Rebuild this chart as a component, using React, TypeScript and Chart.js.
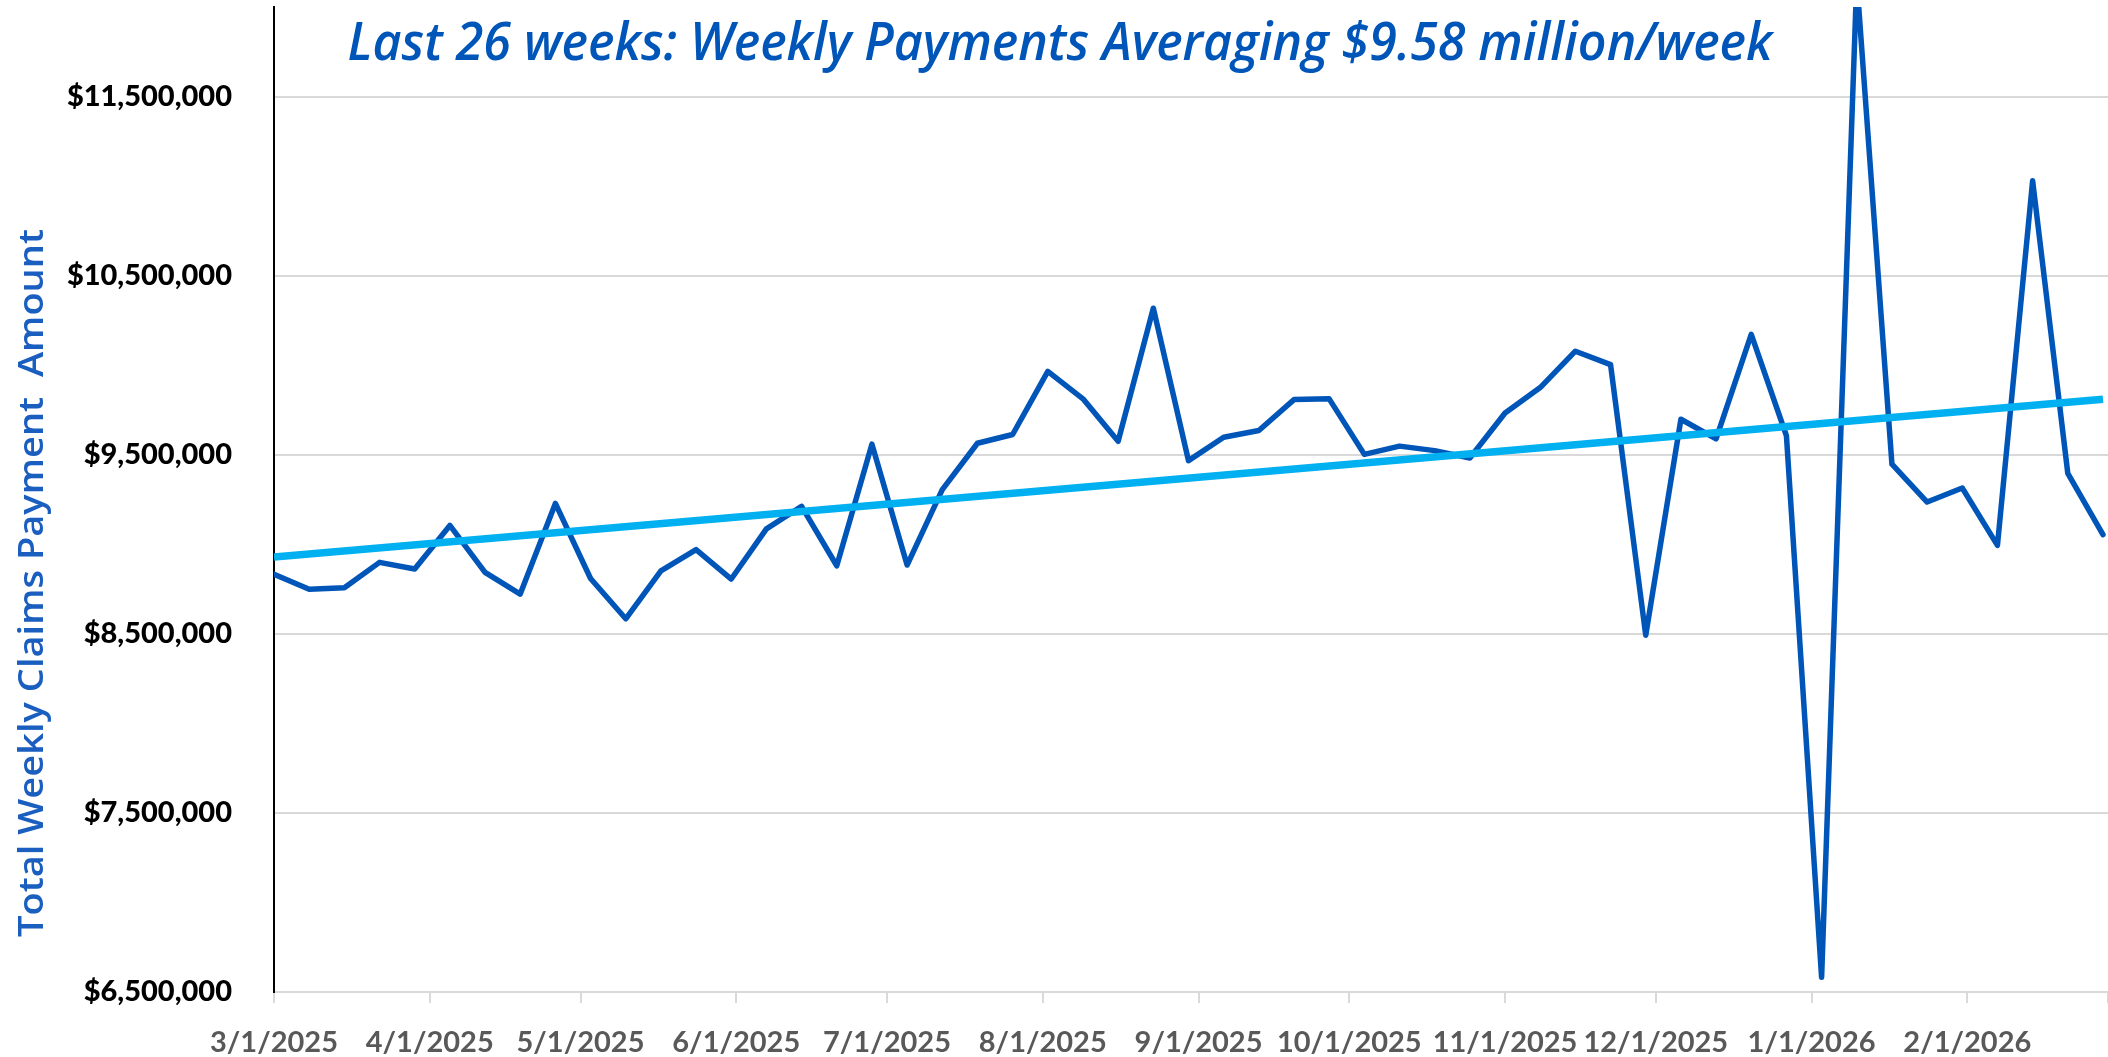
import React, { useEffect, useRef } from 'react';
import { Chart, registerables } from 'chart.js';

Chart.register(...registerables);

// ---- data ----
const firstWeek = '2025-03-01';
const weeklyPayments = [
  8832000, 8749000, 8757000, 8899000, 8862000, 9105000, 8843000, 8722000, 9228000, 8809000,
  8584000, 8851000, 8970000, 8806000, 9086000, 9212000, 8880000, 9559000, 8884000, 9305000,
  9564000, 9613000, 9965000, 9812000, 9575000, 10318000, 9467000, 9598000, 9635000, 9808000,
  9812000, 9502000, 9548000, 9523000, 9482000, 9733000, 9875000, 10078000, 10003000, 8492000,
  9698000, 9589000, 10172000, 9606000, 6582000, 12150000, 9447000, 9236000, 9314000, 8994000,
  11030000, 9396000, 9054000,
];
const trendEnds = [8929000, 9810000];
const monthTickLabels = [
  '3/1/2025', '4/1/2025', '5/1/2025', '6/1/2025', '7/1/2025', '8/1/2025', '9/1/2025',
  '10/1/2025', '11/1/2025', '12/1/2025', '1/1/2026', '2/1/2026', '3/1/2026',
];
const yTickValues = [6500000, 7500000, 8500000, 9500000, 10500000, 11500000];
const yMin = 6500000;
const yMax = 12000000;
const titleText = 'Last 26 weeks: Weekly Payments Averaging $9.58 million/week';
const yAxisTitle = 'Total Weekly Claims Payment  Amount';

const DAY = 86400000;
const parseLabel = (s: string) => {
  const [m, d, y] = s.split('/').map(Number);
  return Date.UTC(y, m - 1, d);
};
const monthTickValues = monthTickLabels.map(parseLabel);
const startMs = Date.parse(firstWeek + 'T00:00:00Z');
const weekDates = weeklyPayments.map((_, i) => startMs + i * 7 * DAY);

// draws text with a given font, horizontally scaled to a target length
function drawFitted(
  ctx: CanvasRenderingContext2D,
  text: string,
  font: string,
  targetWidth: number,
) {
  ctx.font = font;
  const w = ctx.measureText(text).width;
  const sx = targetWidth / w;
  ctx.save();
  ctx.scale(sx, 1);
  ctx.textAlign = 'center';
  ctx.textBaseline = 'alphabetic';
  ctx.fillText(text, 0, 0);
  ctx.restore();
}

const textPlugin = {
  id: 'extraTexts',
  afterDraw(chart: any) {
    const ctx = chart.ctx as CanvasRenderingContext2D;
    // chart title
    ctx.save();
    ctx.fillStyle = '#0055B8';
    ctx.translate(1060, 60);
    drawFitted(ctx, titleText, 'italic 600 52px "Open Sans"', 1425);
    ctx.restore();
    // y axis title
    ctx.save();
    ctx.fillStyle = '#1A5EC0';
    ctx.translate(43, 583);
    ctx.rotate(-Math.PI / 2);
    drawFitted(ctx, yAxisTitle, '600 35px "Open Sans"', 708);
    ctx.restore();
  },
};

export default function App() {
  const ref = useRef<HTMLCanvasElement>(null);
  useEffect(() => {
    if (!ref.current) return;
    const chart = new Chart(ref.current, {
      type: 'line',
      data: {
        datasets: [
          {
            label: 'Trend',
            data: [
              { x: weekDates[0], y: trendEnds[0] },
              { x: weekDates[weekDates.length - 1], y: trendEnds[1] },
            ],
            borderColor: '#00B0F0',
            borderWidth: 7.5,
            pointRadius: 0,
            order: 0,
          },
          {
            label: 'Weekly payments',
            data: weeklyPayments.map((v, i) => ({ x: weekDates[i], y: v })),
            borderColor: '#0055B8',
            borderWidth: 5.5,
            borderJoinStyle: 'round',
            borderCapStyle: 'round',
            pointRadius: 0,
            tension: 0,
            order: 1,
          },
        ],
      },
      options: {
        responsive: false,
        animation: false,
        layout: { padding: { top: 7, left: 0, right: 0, bottom: 0 } },
        plugins: {
          legend: { display: false },
          tooltip: { enabled: false },
          title: { display: false },
        },
        scales: {
          x: {
            type: 'linear',
            min: monthTickValues[0],
            max: monthTickValues[monthTickValues.length - 1],
            afterBuildTicks: (s: any) => {
              s.ticks = monthTickValues.map((v) => ({ value: v }));
            },
            afterFit: (s: any) => {
              s.height = 65;
              s.paddingLeft = 0;
              s.paddingRight = 0;
            },
            grid: {
              drawOnChartArea: false,
              drawTicks: true,
              tickLength: 11,
              color: '#D9D9D9',
              lineWidth: 2,
            },
            border: { color: '#D9D9D9', width: 2 },
            ticks: {
              autoSkip: false,
              maxRotation: 0,
              minRotation: 0,
              padding: 22,
              color: '#595959',
              font: { family: 'Lato', weight: 'bold', size: 29 },
              callback: (_v: any, i: number) =>
                i === monthTickLabels.length - 1 ? '' : monthTickLabels[i],
            },
          },
          y: {
            min: yMin,
            max: yMax,
            afterBuildTicks: (s: any) => {
              s.ticks = yTickValues.map((v) => ({ value: v }));
            },
            afterFit: (s: any) => {
              s.width = 274;
              s.paddingTop = 0;
              s.paddingBottom = 0;
            },
            grid: { color: '#D9D9D9', lineWidth: 2, drawTicks: false },
            border: { color: '#000000', width: 2 },
            ticks: {
              padding: 42,
              color: '#000000',
              font: { family: 'Lato', weight: 900, size: 29 },
              callback: (v: any) => '$' + Number(v).toLocaleString('en-US'),
            },
          },
        },
      },
      plugins: [textPlugin],
    } as any);
    return () => chart.destroy();
  }, []);
  return (
    <div style={{ position: 'absolute', left: 0, top: 0, width: 2108, height: 1057, overflow: 'hidden', background: '#fff' }}>
      <canvas ref={ref} width={2108} height={1057} style={{ display: 'block' }} />
    </div>
  );
}
